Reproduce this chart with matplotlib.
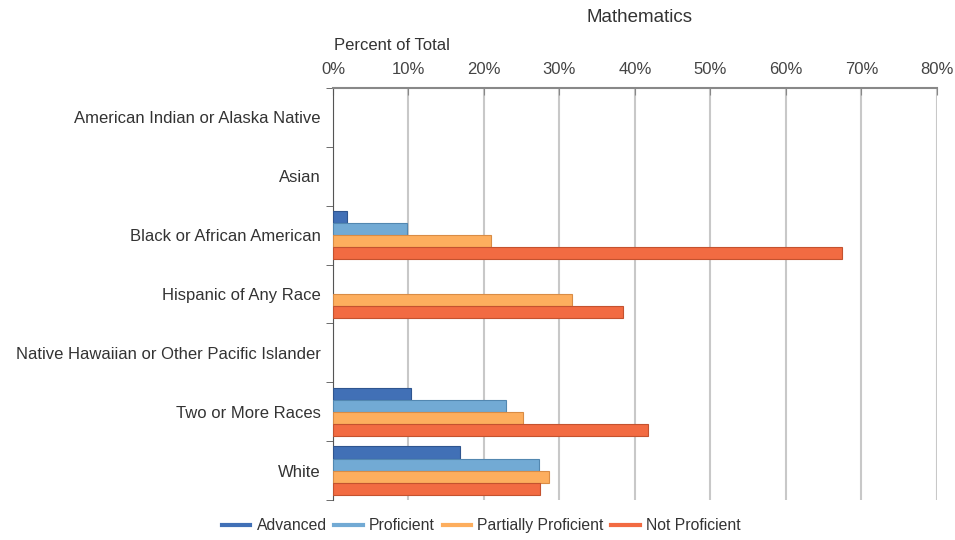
import matplotlib.pyplot as plt
import numpy as np

plt.rcParams['font.family'] = ['Liberation Sans', 'DejaVu Sans']

CATEGORIES = [
    'American Indian or Alaska Native',
    'Asian',
    'Black or African American',
    'Hispanic of Any Race',
    'Native Hawaiian or Other Pacific Islander',
    'Two or More Races',
    'White',
]
LEVELS = ['Advanced', 'Proficient', 'Partially Proficient', 'Not Proficient']
COLORS = ['#4170b6', '#72aad4', '#fdae5e', '#f26b42']
EDGES = ['#2f558f', '#5287b0', '#d98c45', '#c4522f']

# percent of total, None = not reported
advanced = [None, None, 1.9, None, None, 10.3, 16.8]
proficient = [None, None, 9.8, None, None, 22.9, 27.3]
partially = [None, None, 20.9, 31.7, None, 25.2, 28.6]
not_proficient = [None, None, 67.4, 38.4, None, 41.7, 27.4]
SERIES = [advanced, proficient, partially, not_proficient]

fig = plt.figure(figsize=(9.55, 5.4), dpi=100)
ax = fig.add_axes([0.3487, 0.074, 0.6323, 0.763])

bar_h = 0.205
y = np.arange(len(CATEGORIES))
for k, (values, name) in enumerate(zip(SERIES, LEVELS)):
    offset = (k - 1.5) * bar_h
    for i, v in enumerate(values):
        if v is None:
            continue
        ax.barh(y[i] + offset, v, height=bar_h, color=COLORS[k],
                edgecolor=EDGES[k], linewidth=0.8, zorder=3)
    # legend handle
    ax.plot([], [], color=COLORS[k], lw=3, label=name)

ax.set_xlim(0, 80)
ax.set_ylim(len(CATEGORIES) - 0.5, -0.5)
ax.xaxis.tick_top()
ax.set_xticks(np.arange(0, 81, 10))
ax.set_xticklabels([f'{t}%' for t in range(0, 81, 10)])
ax.tick_params(axis='x', direction='in', length=5, color='#888888',
               labelsize=12, labelcolor='#444444', pad=8)
ax.grid(axis='x', color='#c8c8c8', lw=1.5, zorder=0)

ax.set_yticks(y)
ax.set_yticklabels(CATEGORIES)
ax.tick_params(axis='y', length=0, labelsize=12, labelcolor='#333333', pad=9)
ax.set_yticks(np.arange(len(CATEGORIES) + 1) - 0.5, minor=True)
ax.tick_params(axis='y', which='minor', length=5, color='#555555', direction='out')

for side in ['right', 'bottom']:
    ax.spines[side].set_visible(False)
ax.spines['top'].set_color('#888888')
ax.spines['top'].set_linewidth(1.5)
ax.spines['left'].set_color('#555555')

fig.text(0.670, 0.968, 'Mathematics', ha='center', va='center',
         fontsize=13.5, color='#333333')
fig.text(0.410, 0.915, 'Percent of Total', ha='center', va='center',
         fontsize=12, color='#333333')

fig.legend(loc='center', bbox_to_anchor=(0.504, 0.026), ncol=4, frameon=False,
           fontsize=11.3, handlelength=1.8, columnspacing=0.5, handletextpad=0.4,
           labelcolor='#333333')

fig.savefig('out.png', dpi=100)
